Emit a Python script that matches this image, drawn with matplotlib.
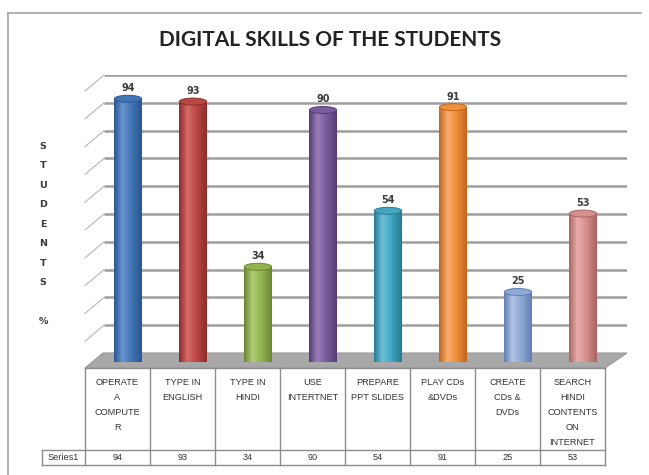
import numpy as np
import matplotlib
matplotlib.use('Agg')
import matplotlib.pyplot as plt
from matplotlib.patches import Ellipse, Polygon, Rectangle
from matplotlib.colors import LinearSegmentedColormap
from matplotlib.lines import Line2D

########################################################################
# data
skills = ['OPERATE\nA\nCOMPUTE\nR', 'TYPE IN\nENGLISH', 'TYPE IN\nHINDI',
          'USE\nINTERTNET', 'PREPARE\nPPT SLIDES', 'PLAY CDs\n&DVDs',
          'CREATE\nCDs &\nDVDs', 'SEARCH\nHINDI\nCONTENTS\nON\nINTERNET']
students_pct = [94, 93, 34, 90, 54, 91, 25, 53]
series_name = 'Series1'
title = 'DIGITAL SKILLS OF THE STUDENTS'
y_label = 'S\nT\nU\nD\nE\nN\nT\nS\n\n%'

# cylinder shades: (edge, highlight, body)
shades = [('#2b5791', '#6795d0', '#4275b5'),
          ('#8c2d2b', '#d56a66', '#bb4744'),
          ('#6a8633', '#b0cc72', '#93b44f'),
          ('#553d74', '#9a7dbc', '#7a5c9c'),
          ('#267a93', '#6cc0d8', '#42a6c1'),
          ('#c2661a', '#f9ad6c', '#f08f3c'),
          ('#617fb2', '#b0c4e6', '#8fa9d6'),
          ('#a96462', '#e8aeac', '#d58f8c')]

########################################################################
# figure in pixel units
W, H = 649, 475
fig = plt.figure(figsize=(W / 100, H / 100), dpi=100)
fig.patch.set_facecolor('white')


def fx(x):
    return x / W


def fy(y):
    return 1 - y / H


def fig_line(xs, ys, color='#8c8c8c', lw=1.0):
    fig.add_artist(Line2D([fx(x) for x in xs], [fy(y) for y in ys],
                          transform=fig.transFigure, color=color, lw=lw))


# chart border
fig_line([8, 8], [13, 480], color='#a6a6a6', lw=1.2)
fig_line([8, 641], [13, 13], color='#a6a6a6', lw=1.2)

# title
fig.text(fx(330), fy(40), title, ha='center', va='center', fontsize=15,
         fontweight='bold', family='Lato', color='#222222')

# vertical axis title, one letter per line
fig.text(fx(43), fy(234), y_label, ha='center', va='center', fontsize=6.8,
         fontweight='bold', color='#3a3a3a', linespacing=2.5)

########################################################################
# back wall with gridlines, side wall diagonals and floor
wall_w, wall_h = 523, 278
ax_wall = fig.add_axes([fx(104), fy(353), wall_w / W, wall_h / H])
ax_wall.set_xlim(0, 1)
ax_wall.set_ylim(0, 100)
ax_wall.axis('off')
px_per_unit = wall_h / 100.0

for v in range(10, 101, 10):
    ax_wall.plot([0, 1], [v, v], color='#9e9e9e', lw=1.8, solid_capstyle='butt')
    ax_wall.plot([0, -19 / wall_w], [v, v - 16 / px_per_unit],
                 color='#bdbdbd', lw=0.9, clip_on=False)

depth = 15 / px_per_unit
floor = Polygon([(-1 / wall_w, 0), (1, 0), (1 - 22 / wall_w, -depth),
                 (-19 / wall_w, -depth)], closed=True, facecolor='#a8a8a8',
                edgecolor='#9a9a9a', lw=0.8, clip_on=False)
ax_wall.add_patch(floor)

########################################################################
# cylinders
ax = fig.add_axes([fx(95.5), fy(362), 520 / W, 280 / H])
ax.patch.set_alpha(0)
ax.axis('off')

bw = 0.42
eh = 2.5
grad = np.linspace(0, 1, 64).reshape(1, -1)

for i, (v, (dark, light, body)) in enumerate(zip(students_pct, shades)):
    cmap = LinearSegmentedColormap.from_list(
        'cyl%d' % i, [(0, dark), (0.3, light), (0.62, body), (1, dark)])

    base = Ellipse((i, 0), bw, eh, facecolor='none', edgecolor='none')
    ax.add_patch(base)
    im = ax.imshow(grad, cmap=cmap, aspect='auto', interpolation='bilinear',
                   extent=[i - bw / 2, i + bw / 2, -eh / 2, eh / 2], zorder=2)
    im.set_clip_path(base)

    side = Rectangle((i - bw / 2, 0), bw, v, facecolor='none', edgecolor='none')
    ax.add_patch(side)
    im = ax.imshow(grad, cmap=cmap, aspect='auto', interpolation='bilinear',
                   extent=[i - bw / 2, i + bw / 2, 0, v], zorder=3)
    im.set_clip_path(side)

    ax.add_patch(Ellipse((i, v), bw, eh, facecolor=body, edgecolor=dark,
                         lw=0.7, zorder=4))
    ax.text(i, v + 2.0, str(v), ha='center', va='bottom', fontsize=7,
            fontweight='bold', color='#3c3c3c', zorder=5)

ax.set_xlim(-0.5, len(students_pct) - 0.5)
ax.set_ylim(0, 100)

########################################################################
# data table under the floor
n = len(skills)
col_w = 65
left, right = 85, 85 + col_w * n
top, mid, bottom = 368, 450, 465

fig_line([left, right], [top, top])
fig_line([42, right], [mid, mid])
fig_line([42, right], [bottom, bottom])
fig_line([42, 42], [mid, bottom])
for k in range(n + 1):
    fig_line([left + col_w * k] * 2, [top, bottom])

for k, (name, v) in enumerate(zip(skills, students_pct)):
    cx = left + col_w * (k + 0.5)
    fig.text(fx(cx), fy(378), name, ha='center', va='top', fontsize=6.6,
             family='Liberation Sans', color='#333333', linespacing=1.85)
    fig.text(fx(cx), fy(458), str(v), ha='center', va='center', fontsize=6.6,
             family='Liberation Sans', color='#333333')
fig.text(fx(63.5), fy(458), series_name, ha='center', va='center', fontsize=6.6,
         family='Liberation Sans', color='#333333')

plt.savefig('out.png', dpi=100)
